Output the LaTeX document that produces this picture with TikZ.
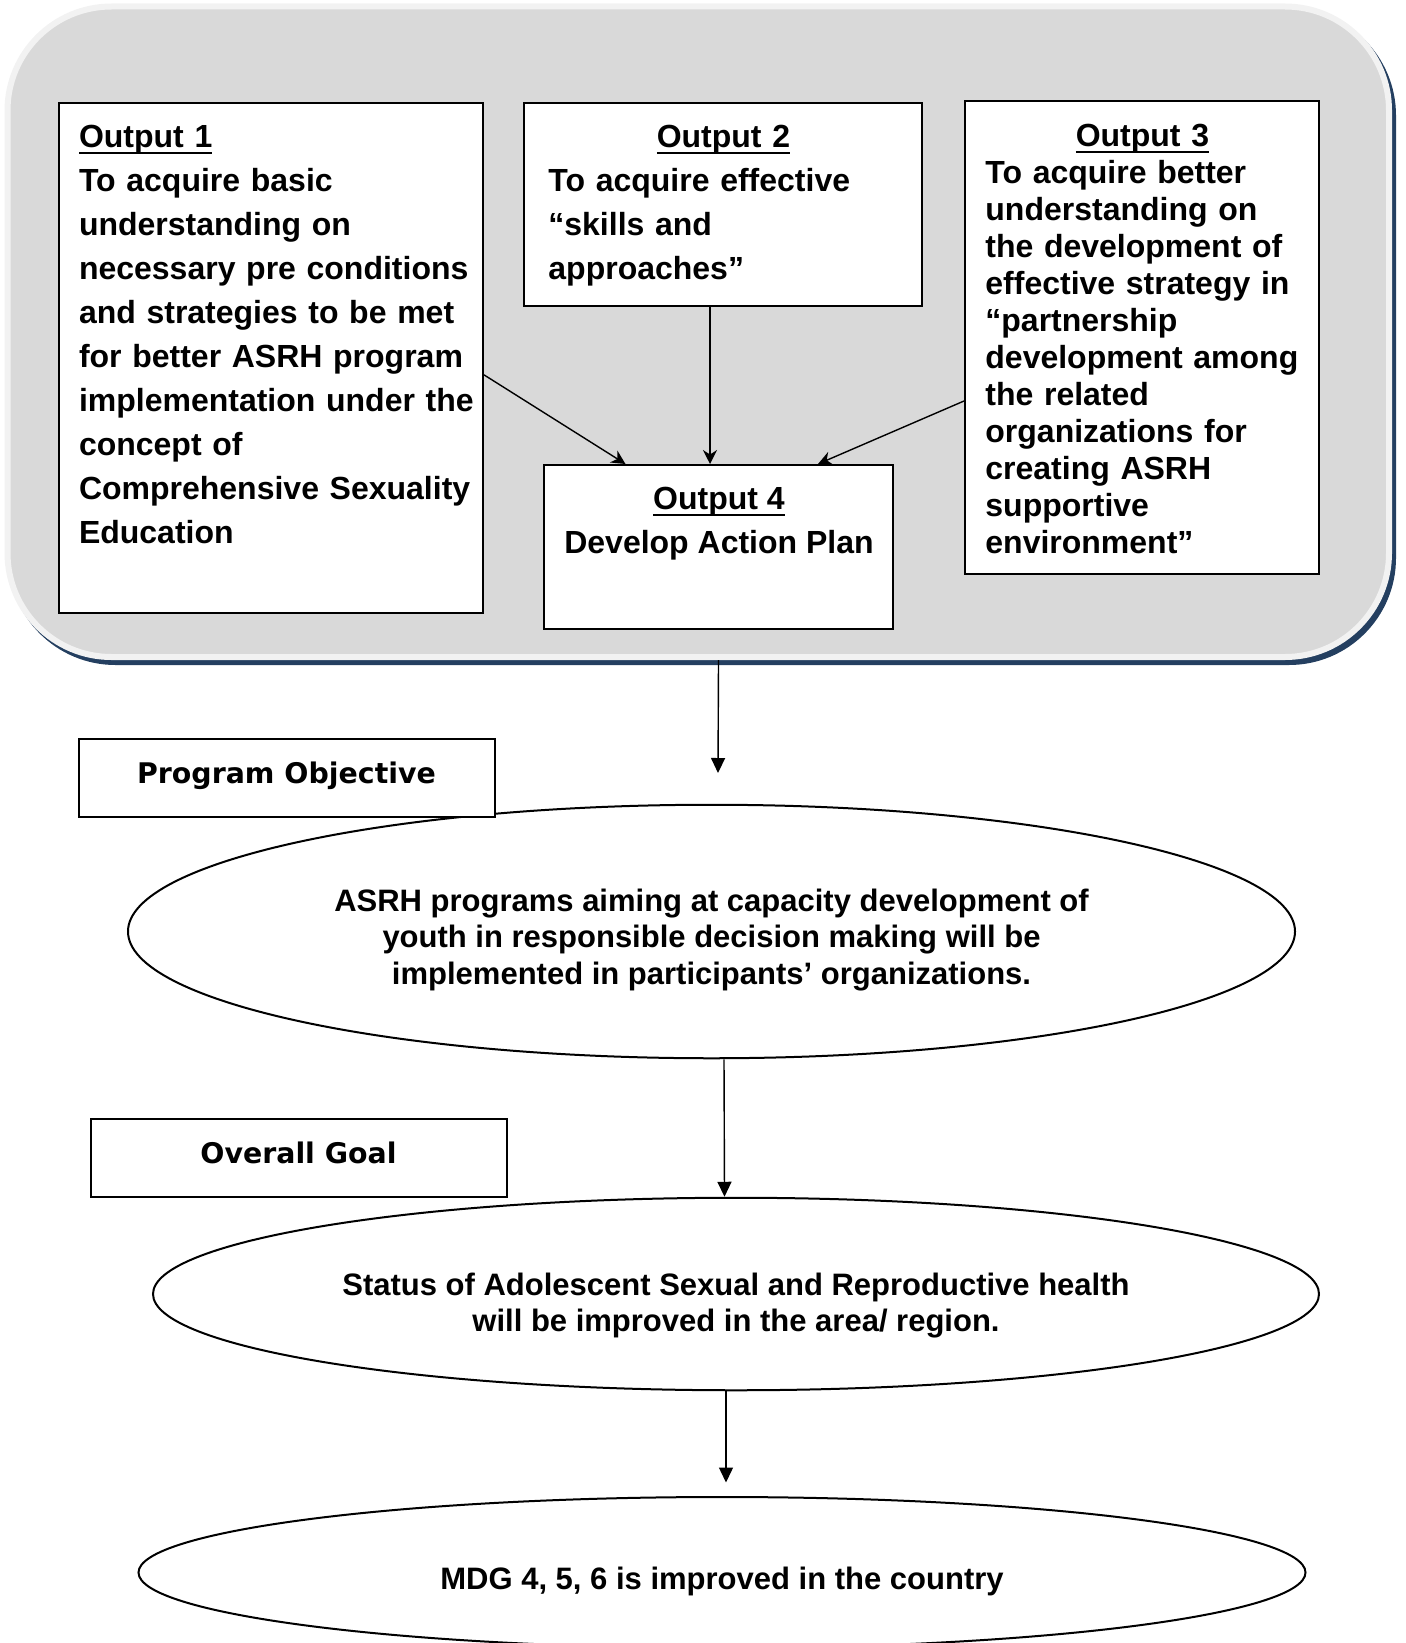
\documentclass[tikz,border=0pt]{standalone}
\usepackage{fontspec}
\setmainfont{Liberation Sans}
\newfontfamily\tagfont{DejaVu Sans}
\usepackage{xcolor}
\usepackage{tikz}
\usetikzlibrary{arrows.meta,shapes.geometric}
\newcommand{\headline}[1]{\setbox0\hbox{#1}\rlap{\rule[-3pt]{\wd0}{1pt}}\box0}
\newcommand{\tallstrut}[1]{\rule{0pt}{#1}}
\definecolor{panegray}{HTML}{D9D9D9}
\definecolor{panerim}{HTML}{F2F2F2}
\definecolor{panenavy}{HTML}{243F60}
\tikzset{Pane/.style={rectangle,rounded corners=52pt,minimum width=690.75pt,minimum height=325.25pt,line width=3pt,fill=panegray,draw=panerim}}
\tikzset{Out/.style={rectangle,draw,fill=white,line width=1pt}}
\tikzset{Txt/.style={inner sep=0pt,font=\bfseries\fontsize{16}{22}\selectfont,align=left}}
\tikzset{Oval/.style={ellipse,draw,line width=1pt,inner sep=0pt,font=\bfseries\fontsize{15.5}{18.35}\selectfont,align=center}}
\tikzset{Tag/.style={rectangle,draw,fill=white,line width=1pt,minimum width=208pt,minimum height=39.2pt,text height=0.76em,text depth=0.24em,font=\tagfont\bfseries\fontsize{14.2}{17}\selectfont}}

\begin{document}
\begin{tikzpicture}[x=0.5pt,y=-0.5pt]
    \useasboundingbox (0,0) rectangle (1406,1643);
    \node[Pane,fill=panenavy,draw=panenavy] (shade) at (702.25,336.75) {};
    \node[Pane] (panel) at (698.25,331.75) {};
    \node[Out,minimum width=212.15pt,minimum height=255.15pt] (out1) at (270.85,357.85) {};
    \node[Out,minimum width=199pt,minimum height=101.65pt] (out2) at (723,204.35) {};
    \node[Out,minimum width=177pt,minimum height=236.7pt] (out3) at (1142,337.3) {};
    \node[Out,minimum width=174.5pt,minimum height=82pt] (out4) at (718.5,547) {};
    \node[Txt,anchor=north west,text width=200pt] (out1txt) at (78.6,125) {\headline{Output 1}\\To acquire basic\\understanding on\\necessary pre conditions\\and strategies to be met\\for better ASRH program\\implementation under the\\concept of\\Comprehensive Sexuality\\Education};
    \node[Txt,anchor=north west,text width=175pt] (out2txt) at (548,125) {\makebox[\hsize]{\headline{Output 2}}\\To acquire effective\\“skills and\\approaches”};
    \node[Txt,anchor=north west,text width=157pt,font=\bfseries\fontsize{16}{18.5}\selectfont] (out3txt) at (985,124) {\makebox[\hsize]{\headline{Output 3}}\\To acquire better\\understanding on\\the development of\\effective strategy in\\“partnership\\development among\\the related\\organizations for\\creating ASRH\\supportive\\environment”};
    \node[Txt,anchor=north,align=center] (out4txt) at (719,487) {\headline{Output 4}\\Develop Action Plan};
    \begin{scope}[arrows={-Stealth[length=7pt,width=7pt]},line width=0.7pt]
      \draw ([yshift=-8.5pt]out1.east) -- ([xshift=41.25pt]out4.north west);
      \draw ([xshift=-6.5pt]out2.south) -- ([xshift=-4.25pt]out4.north);
      \draw ([yshift=-31.85pt]out3.west) -- ([xshift=-38pt]out4.north east);
    \end{scope}
    \node[Oval,minimum width=583.5pt,minimum height=126.75pt] (oval1) at (711.5,931.5) {\tallstrut{19.7pt}ASRH programs aiming at capacity development of\\youth in responsible decision making will be\\implemented in participants’ organizations.};
    \node[Oval,minimum width=583pt,minimum height=96.25pt] (oval2) at (736,1294) {\tallstrut{22.8pt}Status of Adolescent Sexual and Reproductive health\\will be improved in the area/ region.};
    \node[Oval,minimum width=583.5pt,minimum height=75.5pt] (oval3) at (722,1572.5) {\tallstrut{19.7pt}MDG 4, 5, 6 is improved in the country};
    \node[Tag] (objective) at (286.5,777.8) {Program Objective};
    \node[Tag] (goal) at (298.5,1158.25) {Overall Goal};
    \coordinate (aim1) at (718,773);
    \coordinate (aim2) at (726,1482.5);
    \begin{scope}[arrows={-Triangle[length=7.5pt,width=7pt]},line width=0.7pt]
      \draw (out4 |- panel.south) -- (aim1);
      \draw ([xshift=6.25pt]oval1.south) -- ([xshift=-5.75pt]oval2.north);
      \draw ([xshift=-5pt]oval2.south) -- (aim2);
    \end{scope}
\end{tikzpicture}
\end{document}
